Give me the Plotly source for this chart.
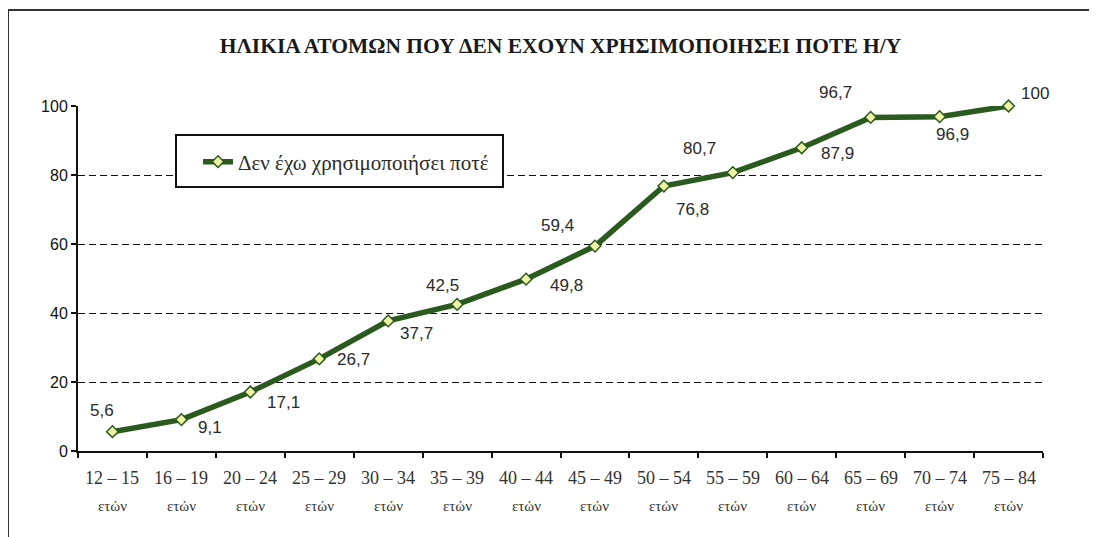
import plotly.graph_objects as go

# ---------------- data ----------------
title_text = "ΗΛΙΚΙΑ ΑΤΟΜΩΝ ΠΟΥ ΔΕΝ ΕΧΟΥΝ ΧΡΗΣΙΜΟΠΟΙΗΣΕΙ ΠΟΤΕ Η/Υ"
series_name = "Δεν έχω χρησιμοποιήσει ποτέ"
categories = ["12 – 15", "16 – 19", "20 – 24", "25 – 29", "30 – 34", "35 – 39", "40 – 44",
              "45 – 49", "50 – 54", "55 – 59", "60 – 64", "65 – 69", "70 – 74", "75 – 84"]
unit_label = "ετών"
values = [5.6, 9.1, 17.1, 26.7, 37.7, 42.5, 49.8, 59.4, 76.8, 80.7, 87.9, 96.7, 96.9, 100]
y_ticks = [0, 20, 40, 60, 80, 100]

# ---------------- styles ----------------
# label offsets (xshift, yshift) in pixels relative to each point
label_offsets = [(-10, 21), (29, -8), (33, -10), (34, -1), (28, -13), (-15, 19), (40, -6),
                 (-37, 21), (29, -23), (-33, 24), (36, -6), (-35, 25), (13, -18), (26, 13)]

OFF = 8                      # page body margin
W, H = 1097 - OFF, 537 - OFF
# plot area in page pixels
PL, PR, PT, PB = 78, 1043, 106, 451
ML, MT = PL - OFF, PT - OFF
MR, MB = W - (PR - OFF), H - (PB - OFF)
PW, PH = PR - PL, PB - PT


def px_x(px):
    return (px - PL) / PW


def px_y(py):
    return (PB - py) / PH


GREEN = "#2b5a1e"
TEXT = "#2a2a2a"
SERIF = "Liberation Serif, Times New Roman, serif"
SANS = "Liberation Sans, Arial, sans-serif"

fig = go.Figure()
fig.add_trace(go.Scatter(
    x=categories, y=values, mode="lines+markers", name=series_name,
    line=dict(color=GREEN, width=5.5),
    marker=dict(symbol="diamond", size=9, color="#eef4a4", line=dict(color=GREEN, width=1.5)),
    cliponaxis=False, showlegend=True,
))

annotations = []
for cat, v, (dx, dy) in zip(categories, values, label_offsets):
    annotations.append(dict(
        x=cat, y=v, xref="x", yref="y", text=f"{v:g}".replace(".", ","),
        showarrow=False, xshift=dx, yshift=dy,
        font=dict(family=SANS, size=17, color=TEXT),
    ))
# two-row category labels
for cat in categories:
    annotations.append(dict(
        x=cat, y=px_y(478), xref="x", yref="paper", text=cat, showarrow=False,
        yanchor="middle", font=dict(family=SERIF, size=18, color="#333"),
    ))
    annotations.append(dict(
        x=cat, y=px_y(506), xref="x", yref="paper", text=unit_label, showarrow=False,
        yanchor="middle", font=dict(family=SERIF, size=15, color="#333"),
    ))

shapes = [
    # outer frame
    dict(type="rect", xref="paper", yref="paper",
         x0=px_x(8), x1=px_x(1120), y0=px_y(560), y1=px_y(10),
         line=dict(color="#333", width=2), fillcolor="rgba(0,0,0,0)", layer="below"),
    # legend box
    dict(type="rect", xref="paper", yref="paper",
         x0=px_x(176), x1=px_x(503), y0=px_y(187), y1=px_y(135),
         line=dict(color="#111", width=2), fillcolor="white", layer="above"),
]

fig.update_layout(
    width=W, height=H,
    margin=dict(l=ML, r=MR, t=MT, b=MB, autoexpand=False),
    paper_bgcolor="white", plot_bgcolor="white",
    title=dict(text=f"<b>{title_text}</b>", x=(560.5 - OFF) / W, xanchor="center", xref="container",
               y=1 - (45 - OFF) / H, yanchor="middle", yref="container",
               font=dict(family=SERIF, size=21.5, color="#1a1a1a")),
    legend=dict(x=px_x(198), y=px_y(162), xanchor="left", yanchor="middle",
                bgcolor="rgba(0,0,0,0)", borderwidth=0,
                font=dict(family=SERIF, size=21, color=TEXT)),
    annotations=annotations,
    shapes=shapes,
)

fig.update_xaxes(
    type="category", categoryorder="array", categoryarray=categories,
    range=[-0.5, len(categories) - 0.5],
    showline=True, linecolor="#111", linewidth=2, mirror=False,
    ticks="outside", tickson="boundaries", ticklen=5, tickwidth=2, tickcolor="#111",
    showgrid=False, zeroline=False, showticklabels=False,
)
fig.update_yaxes(
    range=[0, 100], tickvals=y_ticks,
    showline=True, linecolor="#111", linewidth=2,
    ticks="outside", ticklen=5, tickwidth=2, tickcolor="#111",
    showgrid=True, gridcolor="#111", gridwidth=1.2, griddash="7px,4px",
    zeroline=False,
    tickfont=dict(family=SANS, size=16, color="#111"),
)

fig.write_html("out.html")
